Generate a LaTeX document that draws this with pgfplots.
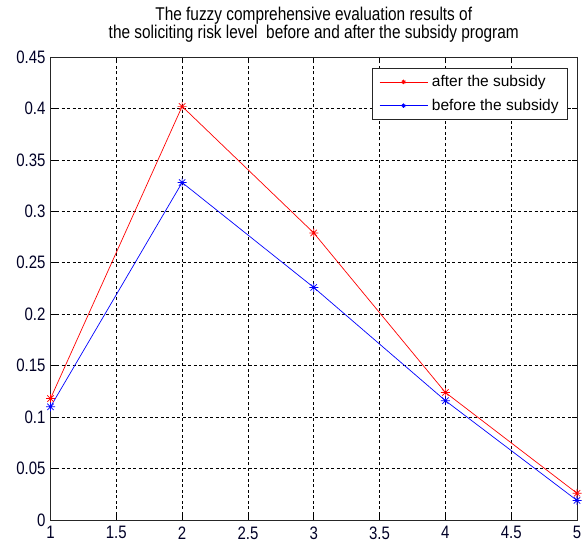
\documentclass[border=0pt]{standalone}
\usepackage{pgfplots}
\pgfplotsset{compat=1.18}
\usepackage{fontspec}
\setmainfont{Liberation Sans}
\newcommand\sy[1]{\scalebox{1}[1.2]{#1}}
\pgfdeclareplotmark{mstar}{%
  \pgfpathmoveto{\pgfqpoint{-\pgfplotmarksize}{0pt}}\pgfpathlineto{\pgfqpoint{\pgfplotmarksize}{0pt}}%
  \pgfpathmoveto{\pgfqpoint{0pt}{-\pgfplotmarksize}}\pgfpathlineto{\pgfqpoint{0pt}{\pgfplotmarksize}}%
  \pgfpathmoveto{\pgfqpoint{-0.707\pgfplotmarksize}{-0.707\pgfplotmarksize}}\pgfpathlineto{\pgfqpoint{0.707\pgfplotmarksize}{0.707\pgfplotmarksize}}%
  \pgfpathmoveto{\pgfqpoint{-0.707\pgfplotmarksize}{0.707\pgfplotmarksize}}\pgfpathlineto{\pgfqpoint{0.707\pgfplotmarksize}{-0.707\pgfplotmarksize}}%
  \pgfusepathqstroke}
\begin{document}
\begin{tikzpicture}
\begin{axis}[
  scale only axis,
  width=526.5pt, height=463pt,
  xmin=1, xmax=5, ymin=0, ymax=0.45,
  xtick={1,1.5,2,2.5,3,3.5,4,4.5,5},
  ytick={0,0.05,0.1,0.15,0.2,0.25,0.3,0.35,0.4,0.45},
  yticklabels={\sy{0},\sy{0.05},\sy{0.1},\sy{0.15},\sy{0.2},\sy{0.25},\sy{0.3},\sy{0.35},\sy{0.4},\sy{0.45}},
  xticklabels={\sy{1},\sy{1.5},\sy{2},\sy{2.5},\sy{3},\sy{3.5},\sy{4},\sy{4.5},\sy{5}},
  tick align=inside,
  major tick length=5pt,
  grid=major,
  major grid style={black, line width=0.7pt, dash pattern=on 3pt off 2.5pt},
  axis line style={black!85, line width=0.9pt},
  tick style={black, line width=0.7pt},
  ticklabel style={font=\fontsize{15}{18}\selectfont, text=black!85!blue},
  xticklabel style={yshift=-3pt},
  yticklabel style={xshift=-1.5pt},
  every axis title/.style={at={(0.5,1)}, anchor=south, inner sep=0pt, yshift=14pt, align=center, font=\fontsize{15.4}{18.6}\selectfont},
  title={\sy{The fuzzy comprehensive evaluation results of}\\\sy{the soliciting risk level\ \ before and after the subsidy program}},
  legend style={at={(0.983,0.976)}, anchor=north east, font=\fontsize{15.5}{18}\selectfont, draw=black!85, line width=0.9pt, inner xsep=7pt, inner ysep=5pt, row sep=7pt, column sep=2pt, nodes={inner sep=2pt}},
  legend cell align=left,
  legend image code/.code={%
    \draw[#1, mark=none] (0pt,0pt) -- (48pt,0pt);
    \draw[#1, mark size=2.2pt, only marks] plot coordinates {(24pt,0pt)};
  },
]
\addplot[red, line width=0.7pt, mark=mstar, mark size=4.5pt] coordinates {(1,0.118) (2,0.402) (3,0.279) (4,0.124) (5,0.026)};
\addlegendentry{after the subsidy}
\addplot[blue, line width=0.7pt, mark=mstar, mark size=4.5pt] coordinates {(1,0.110) (2,0.328) (3,0.226) (4,0.116) (5,0.019)};
\addlegendentry{before the subsidy}
\end{axis}
\pgfresetboundingbox
\path[use as bounding box] ([shift={(-50.5pt,-24pt)}]current axis.south west) rectangle ([shift={(7pt,57pt)}]current axis.north east);
\end{tikzpicture}
\end{document}
